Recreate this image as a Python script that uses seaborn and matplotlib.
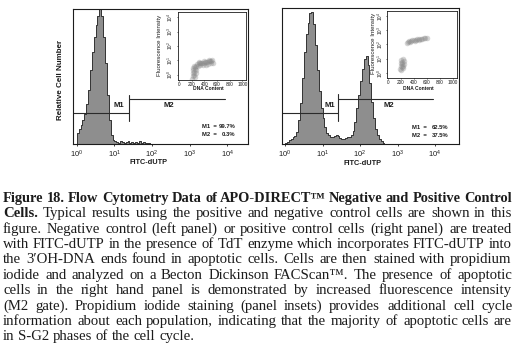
import numpy as np
import pandas as pd
import matplotlib
matplotlib.use("Agg")
import matplotlib.pyplot as plt
import seaborn as sns

# ---------------- data ----------------
BIN_W = 0.05  # width of one histogram channel in log10(FITC) units

# negative control: relative cell number per channel, starting at 10^0
neg_counts = [0.08, 0.11, 0.14, 0.18, 0.22, 0.30, 0.40, 0.55, 0.68, 0.79,
              0.88, 0.95, 1.00, 0.95, 0.79, 0.60, 0.36, 0.18, 0.07, 0.03,
              0.02, 0.015, 0.01, 0.02, 0.015, 0.01, 0.015, 0.02, 0.01, 0.015,
              0.01, 0.015, 0.01, 0.02, 0.01, 0.015, 0.01, 0.008, 0.005, 0.0]

# positive control
pos_counts = [0.005, 0.015, 0.03, 0.04, 0.05, 0.06, 0.09, 0.18, 0.31, 0.50,
              0.70, 0.83, 0.92, 0.99, 1.00, 0.91, 0.75, 0.56, 0.40, 0.27,
              0.20, 0.13, 0.085, 0.065, 0.05, 0.055, 0.06, 0.065, 0.06, 0.045,
              0.04, 0.038, 0.045, 0.05, 0.05, 0.065, 0.10, 0.17, 0.27, 0.37,
              0.48, 0.57, 0.64, 0.67, 0.60, 0.46, 0.32, 0.20, 0.11, 0.065,
              0.04, 0.02, 0.008, 0.0]

gate_split = 1.4     # log10 boundary between M1 and M2
m2_end = 3.95        # log10 end of the M2 marker
gate_names = ["M1", "M2"]
neg_pct = ["99.7%", "0.3%"]
pos_pct = ["62.5%", "37.5%"]

x_ticks = [0, 1, 2, 3, 4]
x_ticklabels = [r"$\mathregular{10^{0}}$", r"$\mathregular{10^{1}}$", r"$\mathregular{10^{2}}$",
                r"$\mathregular{10^{3}}$", r"$\mathregular{10^{4}}$"]
inset_xticks = [0, 200, 400, 600, 800, 1000]

# inset dot plots: DNA content vs log10 fluorescence intensity
neg_dna = [210, 215, 220, 225, 230, 240, 235, 245, 250, 255, 260, 270, 265, 275,
           290, 310, 330, 350, 370, 390, 410, 430, 450, 470, 490, 510, 530,
           300, 340, 380, 420, 460, 500, 540, 320, 400, 480]
neg_fl = [-0.25, -0.05, 0.15, 0.35, 0.5, 0.6, 0.0, 0.2, 0.4, -0.15, 0.55, 0.65, 0.1, 0.35,
          0.75, 0.8, 0.8, 0.82, 0.85, 0.85, 0.88, 0.9, 0.9, 0.93, 0.95, 0.97, 1.0,
          0.65, 0.68, 0.7, 0.72, 0.75, 0.8, 0.85, 0.92, 0.97, 1.02]

pos_dna = [190, 195, 200, 205, 210, 215, 220, 225, 230, 240, 250, 200, 235,
           290, 310, 330, 350, 375, 400, 425, 450, 475, 500, 525, 550, 575, 600,
           340, 420, 480]
pos_fl = [0.3, 0.5, 0.7, 0.9, 0.4, 0.6, 0.8, 1.0, 0.35, 0.65, 0.85, 0.2, 0.5,
          2.1, 2.18, 2.24, 2.28, 2.3, 2.32, 2.34, 2.36, 2.38, 2.4, 2.41, 2.43, 2.44, 2.45,
          2.2, 2.28, 2.33]

caption_lines = [
    [("Figure 18. Flow Cytometry Data of APO-DIRECT\u2122 Negative and Positive Control", "bold")],
    [("Cells.", "bold"), ("Typical results using the positive and negative control cells are shown in this", "normal")],
    [("figure. Negative control (left panel) or positive control cells (right panel) are treated", "normal")],
    [("with FITC-dUTP in the presence of TdT enzyme which incorporates FITC-dUTP into", "normal")],
    [("the 3\u2032OH-DNA ends found in apoptotic cells. Cells are then stained with propidium", "normal")],
    [("iodide and analyzed on a Becton Dickinson FACScan\u2122. The presence of apoptotic", "normal")],
    [("cells in the right hand panel is demonstrated by increased fluorescence intensity", "normal")],
    [("(M2 gate). Propidium iodide staining (panel insets) provides additional cell cycle", "normal")],
    [("information about each population, indicating that the majority of apoptotic cells are", "normal")],
    [("in S-G2 phases of the cell cycle.", "normal")],
]

# ---------------- style ----------------
sns.set_theme(style="white")
plt.rcParams["font.family"] = ["Liberation Sans", "DejaVu Sans"]
plt.rcParams["mathtext.fontset"] = "custom"
plt.rcParams["mathtext.rm"] = "Liberation Sans"
plt.rcParams["axes.linewidth"] = 0.8

INK = "#1c1c1c"
HIST_FILL = "#8e8e8e"
HIST_EDGE = "#333333"
W, H = 516, 344

fig = plt.figure(figsize=(W / 100, H / 100), dpi=100)
fig.patch.set_facecolor("white")


def rect(x0, y0, x1, y1):
    return [x0 / W, 1 - y1 / H, (x1 - x0) / W, (y1 - y0) / H]


def main_panel(box, counts, xlim, ylim_top, labpos, pct, pct_box, xlab_x):
    ax = fig.add_axes(rect(*box))
    n = len(counts)
    centers = (np.arange(n) + 0.5) * BIN_W
    df = pd.DataFrame({"log_fitc": centers, "cells": counts})
    sns.histplot(data=df, x="log_fitc", weights="cells", bins=n, binrange=(0, n * BIN_W),
                 element="step", fill=True, color=HIST_FILL, alpha=1.0,
                 edgecolor=HIST_EDGE, linewidth=0.7, ax=ax)
    for coll in ax.collections:
        coll.set_edgecolor(HIST_EDGE)
        coll.set_linewidth(0.7)
    ax.set_xlim(*xlim)
    ax.set_ylim(0, ylim_top)
    ax.set_xticks(x_ticks)
    ax.set_xticklabels(x_ticklabels)
    ax.set_yticks([])
    ax.set_xlabel("")
    ax.set_ylabel("")
    ax.tick_params(axis="x", length=1.5, width=0.6, pad=2, labelsize=5.4,
                   colors=INK, direction="out", bottom=True)
    for s in ax.spines.values():
        s.set_color(INK)
        s.set_linewidth(0.8)
    ax.set_facecolor("white")
    tr = ax.get_xaxis_transform()
    lc = "#2a2a2a"
    ax.plot([xlim[0], gate_split], [0.23, 0.23], color=lc, lw=0.8, transform=tr)
    ax.plot([gate_split, m2_end], [0.333, 0.333], color=lc, lw=0.8, transform=tr)
    ax.plot([gate_split, gate_split], [0.17, 0.365], color=lc, lw=0.8, transform=tr)
    ax.text(labpos[0], 0.285, gate_names[0], transform=tr, fontsize=5.5,
            fontweight="bold", color=INK, ha="center", va="center")
    ax.text(labpos[1], 0.285, gate_names[1], transform=tr, fontsize=5.5,
            fontweight="bold", color=INK, ha="center", va="center")
    x0, x1, y0, y1 = pct_box
    for name, val, yy in zip(gate_names, pct, [y0, y1]):
        ax.text(x0, yy, name + "  =", transform=ax.transAxes, fontsize=4.2,
                fontweight="bold", color=INK, ha="left", va="center")
        ax.text(x1, yy, val, transform=ax.transAxes, fontsize=4.2,
                fontweight="bold", color=INK, ha="right", va="center")
    ax.text(xlab_x, -0.14, "FITC-dUTP", transform=ax.transAxes, fontsize=5.3,
            fontweight="bold", color=INK, ha="center", va="center")
    return ax


def inset_panel(box, dna, fl, ylab_x, ypad, xlab_y):
    ax = fig.add_axes(rect(*box))
    sns.scatterplot(x=dna, y=fl, s=16, color="#8a8a8a", alpha=0.35, linewidth=0, ax=ax)
    ax.set_xlim(-15, 1060)
    ax.set_ylim(-0.35, 4.35)
    ax.set_xticks(inset_xticks)
    ax.set_xticklabels([str(v) for v in inset_xticks])
    ax.set_yticks(x_ticks)
    ax.set_yticklabels(x_ticklabels)
    ax.tick_params(axis="x", length=1, width=0.5, pad=0.6, labelsize=3.4, colors=INK,
                   bottom=True)
    ax.tick_params(axis="y", length=1, width=0.5, pad=ypad, labelsize=3.4, colors=INK,
                   left=True)
    for lbl in ax.get_yticklabels():
        lbl.set_rotation(90)
        lbl.set_va("center")
        lbl.set_ha("right")
    for s in ax.spines.values():
        s.set_color(INK)
        s.set_linewidth(0.6)
    ax.set_facecolor("white")
    ax.text(0.45, xlab_y, "DNA Content", transform=ax.transAxes, fontsize=3.5,
            fontweight="bold", color=INK, ha="center", va="center")
    ax.text(ylab_x, 0.51, "Fluorescence Intensity", transform=ax.transAxes, fontsize=4.4,
            color=INK, ha="center", va="center", rotation=90)
    return ax


main_panel((73, 9, 248, 144), neg_counts, (-0.1, 4.55), 1.0, (1.12, 2.45), neg_pct,
           (0.737, 0.926, 0.133, 0.074), 0.43)
main_panel((282, 8, 459, 144), pos_counts, (-0.08, 4.64), 1.03, (1.2, 2.78), pos_pct,
           (0.734, 0.938, 0.118, 0.059), 0.455)
inset_panel((178, 12, 246, 80), neg_dna, neg_fl, -0.27, 1.3, -0.13)
inset_panel((387, 11, 457, 78), pos_dna, pos_fl, -0.20, 0.3, -0.15)

fig.text(61 / W, 1 - 80 / H, "Relative Cell Number", fontsize=5.8, fontweight="bold",
         color=INK, rotation=90, ha="center", va="center")

# ---------------- caption with justified lines ----------------
CAP_FONT = ["Liberation Serif"]
renderer = fig.canvas.get_renderer()


def measure(s, weight, fs):
    t = fig.text(0, 0, s, fontsize=fs, fontweight=weight, family=CAP_FONT)
    w = t.get_window_extent(renderer).width
    t.remove()
    return w


def line_words(line):
    out = []
    for txt, wt in line:
        for w in txt.split():
            out.append((w, wt))
    return out


def natural_width(line, fs, sp):
    ws = line_words(line)
    return sum(measure(w, wt, fs) for w, wt in ws) + (len(ws) - 1) * sp


X_LEFT, X_RIGHT = 3.0, 512.0
ref_fs = 10.0
sp_ref = measure("a a", "normal", ref_fs) - 2 * measure("a", "normal", ref_fs)
nat = [natural_width(line, ref_fs, sp_ref) for line in caption_lines[1:-1]]
cap_fs = ref_fs * (X_RIGHT - X_LEFT) / max(nat)
title_nat = natural_width(caption_lines[0], ref_fs, sp_ref)
title_fs = min(cap_fs, ref_fs * (X_RIGHT - X_LEFT) / title_nat)
space_px = sp_ref * cap_fs / ref_fs

baselines = [202, 217, 233, 248, 263, 279, 294, 310, 325, 340]
for i, line in enumerate(caption_lines):
    ws = line_words(line)
    fs = title_fs if i == 0 else cap_fs
    objs = [fig.text(0, (H - baselines[i]) / H, w, fontsize=fs, fontweight=wt,
                     family=CAP_FONT, color=INK, ha="left", va="baseline")
            for w, wt in ws]
    widths = [t.get_window_extent(renderer).width for t in objs]
    justify = i < len(caption_lines) - 1
    gap = (X_RIGHT - X_LEFT - sum(widths)) / (len(objs) - 1) if justify else space_px
    x = X_LEFT
    for t, w in zip(objs, widths):
        t.set_x(round(x) / W)
        x += w + gap

fig.savefig("out.png", dpi=100, facecolor="white")
